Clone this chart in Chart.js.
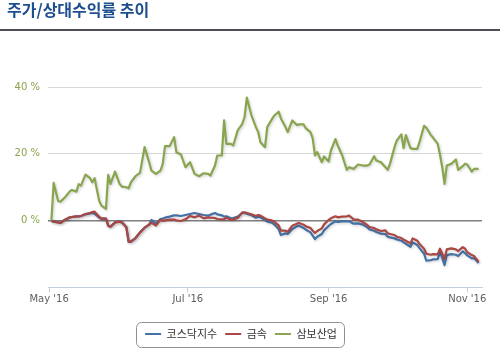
<!DOCTYPE html>
<html><head><meta charset="utf-8">
<script src="https://cdn.jsdelivr.net/npm/chart.js@4/dist/chart.umd.min.js"></script>
<style>
html,body{margin:0;padding:0;background:#fff;}
#wrap{position:relative;width:500px;height:356px;overflow:hidden;}
#title{position:absolute;left:7px;top:-1px;font:bold 16px "Noto Sans CJK KR",sans-serif;color:#1d4f8f;line-height:20px;white-space:nowrap;}
#rule{position:absolute;left:0;top:29px;width:500px;height:2px;background:#4d4d55;}
canvas{position:absolute;left:0;top:0;}
</style></head><body>
<div id="wrap"><canvas id="c" width="500" height="356"></canvas><div id="title">주가/상대수익률 추이</div><div id="rule"></div></div>
<script>
const dates = ['05-02','05-03','05-05','05-06','05-08','05-10','05-11','05-13','05-14','05-15','05-17','05-19','05-20','05-21','05-23','05-24','05-26','05-27','05-28','05-30',
'06-01','06-02','06-04','06-05','06-06','06-08','06-10','06-12','06-14','06-15','06-17','06-19','06-20','06-21','06-23','06-25','06-26','06-28','06-30',
'07-02','07-04','07-06','07-08','07-10','07-11','07-13','07-14','07-16','07-17','07-18','07-20','07-21','07-23','07-25','07-26','07-27','07-29','07-31',
'08-01','08-02','08-04','08-05','08-07','08-08','08-10','08-11','08-13','08-14','08-16','08-18','08-19','08-21','08-22','08-24','08-25','08-26','08-27','08-29','08-30',
'09-01','09-02','09-04','09-05','09-07','09-09','09-10','09-12','09-14','09-16','09-18','09-19','09-21','09-22','09-24','09-26','09-27','09-28','09-30',
'10-01','10-03','10-04','10-05','10-07','10-08','10-10','10-11','10-13','10-14','10-16','10-17','10-19','10-20','10-21','10-22','10-23','10-25','10-27','10-28','10-30','10-31',
'11-01','11-03','11-04','11-06'];
const kosdaq = [0,-0.3,-0.5,-0.7,0.3,0.9,1.1,1.3,1.3,1.4,1.9,2.2,2.3,2.1,0.9,0.6,0.6,-1.5,-1.8,-0.5,
-0.3,-0.5,-2.0,-6.3,-6.3,-5.2,-3.5,-2.1,-1.2,0.2,-0.8,0.5,0.6,0.9,1.2,1.6,1.6,1.4,1.7,
2.0,2.3,2.0,1.7,1.5,1.8,2.3,1.9,1.6,1.2,1.3,0.7,0.8,1.2,2.3,2.3,2.1,1.6,0.9,
1.2,1.0,0.2,-0.3,-0.6,-1.1,-2.5,-4.3,-3.8,-4.0,-2.5,-1.7,-1.5,-2.2,-2.7,-3.5,-4.5,-5.5,-4.8,-4.0,-2.9,
-1.6,-1.0,-0.2,-0.4,-0.2,-0.2,-0.2,-0.9,-0.8,-1.2,-2.0,-2.6,-3.0,-3.4,-3.9,-4.0,-4.8,-5.0,-5.3,
-5.6,-6.0,-6.5,-6.9,-7.8,-6.5,-7.3,-8.2,-9.9,-12,-11.8,-11.6,-11.5,-9.4,-11.2,-13.3,-10.3,-10.0,-10.2,-10.6,-9.2,-9.7,
-10.4,-11.3,-11.2,-12.7];
const metal = [0,-0.3,-0.5,-0.7,0.3,1.0,1.1,1.3,1.3,1.4,2.0,2.3,2.6,2.7,1.2,0.6,0.6,-1.5,-1.8,-0.5,
-0.3,-0.5,-2.0,-6.3,-6.3,-5.2,-3.5,-2.1,-1.2,-0.6,-1.5,0.3,-0.1,0.1,0.3,0.3,0.1,-0.1,0.4,
1.4,1.0,1.5,0.7,1.0,0.9,0.8,0.5,0.4,0.4,0.9,0.3,0.4,0.8,2.5,2.5,2.3,1.9,1.4,
1.7,1.5,0.7,0.3,0.1,-0.3,-1.4,-3.0,-3.0,-3.3,-1.5,-0.9,-0.7,-1.2,-1.7,-2.2,-3.0,-3.7,-3.1,-2.3,-1.1,
0.2,0.7,1.3,1.0,1.2,1.3,1.5,0.4,0.3,-0.4,-1.3,-1.9,-2.2,-2.6,-3.1,-2.9,-3.8,-4.0,-4.3,
-4.8,-5.2,-5.7,-6.0,-6.8,-5.3,-6.0,-7.0,-8.4,-9.9,-10.2,-10.0,-10.1,-8.4,-9.8,-11.5,-8.6,-8.3,-8.6,-9.1,-7.9,-8.4,
-9.4,-10.3,-10.6,-12.3];
const sambo = [0,11.3,5.8,5.7,7,8.7,9.2,8.7,10.9,10.5,13.8,12.7,11.5,12.7,6,4.5,3.5,13.7,11,14.7,
11,10.2,10,9.7,11.5,13.3,14.3,22,17.5,15,14,15,17,22.3,22.3,25,20.5,19.8,16,
17.5,14,13.3,14.2,14,13.5,16.5,19.5,19.5,30,23,23,22.5,27,29,31,36.8,31.6,28,
26.5,23.5,22,28,30.3,31.4,32.6,30.6,28,26.5,30,28.6,28.8,28.8,27.6,26.5,24.6,19.5,20.5,17.5,19.2,
17.7,21,24.4,22.5,19.5,15.2,16,15.5,16.8,16.5,16.5,16.8,19.3,18,17.5,16,15.2,17,22,
24,25.8,21.7,25.6,21.7,21.5,21.5,23.5,28.4,27.8,25.6,24.8,23,19.8,16,11,16.5,17,18.3,15.2,16.3,17,
16.8,14.7,15.5,15.5];
const seriesNames = ['코스닥지수','금속','삼보산업'];
const seriesColors = ['#4572A7','#AA4643','#89A54E'];
const tickDates = ['05-01','07-01','09-01','11-01'];
const tickLabels = ["May '16","Jul '16","Sep '16","Nov '16"];
const yTicks = [0,20,40];

const YEAR = 2016;
function dayOf(s){ const [m,d]=s.split('-').map(Number); return (Date.UTC(YEAR,m-1,d)-Date.UTC(YEAR,4,1))/864e5; }
const days = dates.map(dayOf);
const tickDays = tickDates.map(dayOf);
const pts = arr => arr.map((v,i)=>({x:days[i], y:v}));

const shadowPlugin = { id:'shadow',
  beforeDatasetDraw(chart){ const c=chart.ctx; c.save(); c.shadowColor='rgba(0,0,0,0.2)'; c.shadowBlur=3; c.shadowOffsetX=1; c.shadowOffsetY=1; },
  afterDatasetDraw(chart){ chart.ctx.restore(); } };
const legendBox = { id:'legendBox',
  afterDraw(chart){ const hb=chart.legend.legendHitBoxes; if(!hb||!hb.length) return;
    const c=chart.ctx; const last=hb[hb.length-1];
    const x0=hb[0].left-9, x1=last.left+last.width+7, cy=hb[0].top+hb[0].height/2;
    c.save(); c.strokeStyle='#909090'; c.lineWidth=1; c.beginPath();
    c.roundRect(Math.round(x0)+0.5, Math.round(cy-12)+0.5, Math.round(x1-x0), 25, 5); c.stroke(); c.restore(); } };

const sets = [kosdaq, metal, sambo];
new Chart(document.getElementById('c'), {
  type:'line',
  data:{ datasets: sets.map((arr,i)=>({ label:seriesNames[i], data:pts(arr), borderColor:seriesColors[i], backgroundColor:seriesColors[i],
     borderWidth:2.2, pointRadius:0, pointHoverRadius:0, fill:false, tension:0, order:3-i, borderJoinStyle:'round' })) },
  options:{
    responsive:false, devicePixelRatio:1, animation:false,
    layout:{ padding:{ top:87, left:0, right:18, bottom:6.5 } },
    scales:{
      x:{ type:'linear', min:-0.5, max:190.5,
        afterBuildTicks: s => { s.ticks = tickDays.map(v=>({value:v})); },
        ticks:{ color:'#606060', font:{family:'"DejaVu Sans"', size:10}, padding:1, maxRotation:0, autoSkip:false,
          callback:(v,i)=>tickLabels[i] },
        grid:{ display:true, drawOnChartArea:false, color:'#C0D0E0', tickLength:5 },
        border:{ color:'#C0D0E0', width:1 },
        afterFit: s => { s.height = 33; } },
      y:{ min:-20, max:40,
        afterBuildTicks: s => { s.ticks = yTicks.map(v=>({value:v})); },
        ticks:{ color:'#8AA34A', font:{family:'"DejaVu Sans"', size:10}, padding:8, callback: v => v + ' %' },
        grid:{ color: ctx => (ctx.tick && ctx.tick.value===0) ? '#808080' : '#D8D8D8', lineWidth: ctx => (ctx.tick && ctx.tick.value===0) ? 1.5 : 1, drawTicks:false },
        border:{ display:false },
        afterFit: s => { s.width = 48; } }
    },
    plugins:{
      title:{display:false}, tooltip:{enabled:false},
      legend:{ position:'bottom', align:'center',
        labels:{ boxWidth:16, boxHeight:2, padding:8, color:'#333333', font:{family:'"Noto Sans CJK KR"', size:11},
          generateLabels: chart => chart.data.datasets.map((ds,i)=>({ text:ds.label, fillStyle:ds.borderColor, strokeStyle:ds.borderColor, lineWidth:0, hidden:false, datasetIndex:i, fontColor:'#333333' })) } }
    }
  },
  plugins:[shadowPlugin, legendBox]
});
</script>
</body></html>
